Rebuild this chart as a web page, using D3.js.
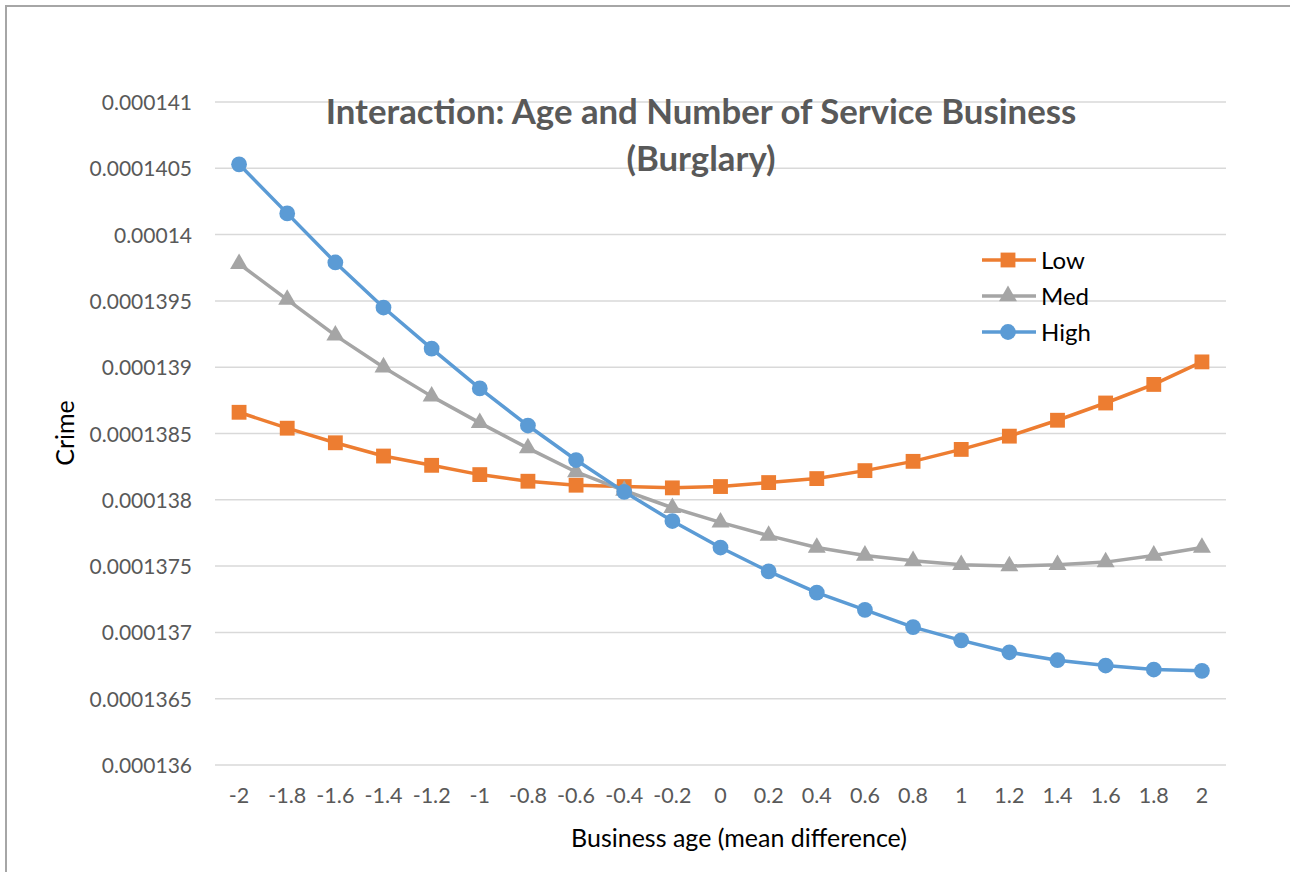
<!DOCTYPE html>
<html>
<head>
<meta charset="utf-8">
<script src="https://cdn.jsdelivr.net/npm/d3@7"></script>
<style>
  html, body { margin: 0; padding: 0; background: #ffffff; overflow: hidden; }
  svg { display: block; }
  text { font-family: Lato, "Open Sans", sans-serif; }
</style>
</head>
<body>
<svg id="chart" width="1290" height="872"></svg>
<script>
// Business age (mean difference) categories
const ages = ["-2", "-1.8", "-1.6", "-1.4", "-1.2", "-1", "-0.8", "-0.6", "-0.4", "-0.2",
              "0", "0.2", "0.4", "0.6", "0.8", "1", "1.2", "1.4", "1.6", "1.8", "2"];

// Predicted crime for a low / medium / high number of service businesses
const lowValues = [0.00013866, 0.00013854, 0.00013843, 0.00013833, 0.00013826, 0.00013819,
                   0.00013814, 0.00013811, 0.0001381, 0.00013809, 0.0001381, 0.00013813,
                   0.00013816, 0.00013822, 0.00013829, 0.00013838, 0.00013848, 0.0001386,
                   0.00013873, 0.00013887, 0.00013904];
const medValues = [0.00013978, 0.00013951, 0.00013924, 0.000139, 0.00013878, 0.00013858,
                   0.00013839, 0.00013821, 0.00013807, 0.00013794, 0.00013783, 0.00013773,
                   0.00013764, 0.00013758, 0.00013754, 0.00013751, 0.0001375, 0.00013751,
                   0.00013753, 0.00013758, 0.00013764];
const highValues = [0.00014053, 0.00014016, 0.00013979, 0.00013945, 0.00013914, 0.00013884,
                    0.00013856, 0.0001383, 0.00013806, 0.00013784, 0.00013764, 0.00013746,
                    0.0001373, 0.00013717, 0.00013704, 0.00013694, 0.00013685, 0.00013679,
                    0.00013675, 0.00013672, 0.00013671];

const seriesNames = ["Low", "Med", "High"];
const yTickValues = [0.000136, 0.0001365, 0.000137, 0.0001375, 0.000138, 0.0001385,
                     0.000139, 0.0001395, 0.00014, 0.0001405, 0.000141];
const yTickLabels = ["0.000136", "0.0001365", "0.000137", "0.0001375", "0.000138", "0.0001385",
                     "0.000139", "0.0001395", "0.00014", "0.0001405", "0.000141"];

const titleLines = ["Interaction: Age and Number of Service Business", "(Burglary)"];
const xTitle = "Business age (mean difference)";
const yTitle = "Crime";

// Styling per series
const palette = { Low: "#ED7D31", Med: "#A5A5A5", High: "#5B9BD5" };
const shapes = { Low: d3.symbolSquare, Med: d3.symbolTriangle, High: d3.symbolCircle };
const markerSize = { Low: 220, Med: 140, High: 195 };

const series = [
  { name: "Low", values: lowValues },
  { name: "Med", values: medValues },
  { name: "High", values: highValues }
];

const svg = d3.select("#chart");

// Chart frame: only its top and left edges fall inside the page
svg.append("path")
  .attr("d", "M6,880 V6 H1300")
  .attr("fill", "none")
  .attr("stroke", "#A6A6A6")
  .attr("stroke-width", 2);

const plot = { left: 215, right: 1226, top: 102, bottom: 765 };

const x = d3.scaleBand().domain(ages).range([plot.left, plot.right]).padding(0);
const xc = d => x(d) + x.bandwidth() / 2;
const y = d3.scaleLinear().domain([0.000136, 0.000141]).range([plot.bottom, plot.top]);

// Horizontal gridlines
svg.append("g").selectAll("line")
  .data(yTickValues)
  .join("line")
  .attr("x1", plot.left).attr("x2", plot.right)
  .attr("y1", d => y(d)).attr("y2", d => y(d))
  .attr("stroke", "#D9D9D9")
  .attr("stroke-width", 1.5);

// Y axis labels
const yAxis = d3.axisLeft(y)
  .tickValues(yTickValues)
  .tickFormat((d, i) => yTickLabels[i])
  .tickSize(0)
  .tickPadding(0);
const yG = svg.append("g")
  .attr("transform", `translate(${plot.left - 23},0)`)
  .call(yAxis);
yG.select(".domain").remove();
yG.selectAll("text")
  .attr("fill", "#595959")
  .style("font-size", "21px")
  .attr("dy", "0.36em");

// X axis labels
const xAxis = d3.axisBottom(x).tickSize(0).tickPadding(0);
const xG = svg.append("g")
  .attr("transform", `translate(0,${plot.bottom + 38})`)
  .call(xAxis);
xG.select(".domain").remove();
xG.selectAll("text")
  .attr("fill", "#595959")
  .style("font-size", "21.5px")
  .attr("y", 0)
  .attr("dy", 0);

// Series lines and markers
const line = d3.line()
  .x((d, i) => xc(ages[i]))
  .y(d => y(d));

const sg = svg.append("g").selectAll("g")
  .data(series)
  .join("g");

sg.append("path")
  .attr("d", s => line(s.values))
  .attr("fill", "none")
  .attr("stroke", s => palette[s.name])
  .attr("stroke-width", 3.5)
  .attr("stroke-linejoin", "round");

sg.each(function (s) {
  d3.select(this).selectAll("path.marker")
    .data(s.values)
    .join("path")
    .attr("class", "marker")
    .attr("d", d3.symbol().type(shapes[s.name]).size(markerSize[s.name]))
    .attr("transform", (d, i) => `translate(${xc(ages[i])},${y(d)})`)
    .attr("fill", palette[s.name]);
});

// Title, fitted to its line width
const title = svg.append("g")
  .attr("fill", "#595959")
  .attr("text-anchor", "middle")
  .style("font-weight", "bold");
const t1 = title.append("text")
  .attr("x", 701).attr("y", 124)
  .style("font-size", "32px")
  .text(titleLines[0]);
const w1 = t1.node().getComputedTextLength();
const titleSize = 32 * 751 / w1;
t1.style("font-size", titleSize + "px");
title.append("text")
  .attr("x", 701).attr("y", 171)
  .style("font-size", titleSize + "px")
  .text(titleLines[1]);

// Axis titles
svg.append("text")
  .attr("x", 739).attr("y", 847)
  .attr("text-anchor", "middle")
  .attr("fill", "#000000")
  .style("font-size", "25px")
  .text(xTitle);

svg.append("text")
  .attr("transform", "translate(74,433) rotate(-90)")
  .attr("text-anchor", "middle")
  .attr("fill", "#000000")
  .style("font-size", "25px")
  .text(yTitle);

// Legend
const legend = svg.append("g").selectAll("g")
  .data(seriesNames)
  .join("g")
  .attr("transform", (d, i) => `translate(982,${260 + i * 36})`);
legend.append("line")
  .attr("x1", 0).attr("x2", 54)
  .attr("stroke", d => palette[d])
  .attr("stroke-width", 3.5);
legend.append("path")
  .attr("d", d => d3.symbol().type(shapes[d]).size(markerSize[d])())
  .attr("transform", "translate(26,0)")
  .attr("fill", d => palette[d]);
legend.append("text")
  .attr("x", 59).attr("dy", "0.36em")
  .attr("fill", "#000000")
  .style("font-size", "24px")
  .text(d => d);
</script>
</body>
</html>
